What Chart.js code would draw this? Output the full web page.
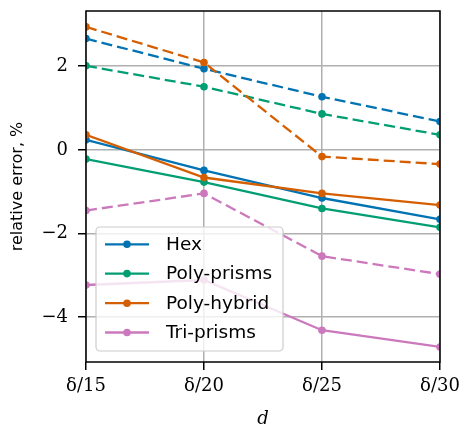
<!DOCTYPE html>
<html>
<head>
<meta charset="utf-8">
<script src="https://cdn.jsdelivr.net/npm/chart.js@4"></script>
<style>
  html, body { margin: 0; padding: 0; background: #fff; }
  #wrap { width: 463px; height: 428px; }
</style>
</head>
<body>
<div id="wrap"><canvas id="chart" width="463" height="428"></canvas></div>
<script>
// categories (grid spacing)
const labels = ['δ/15', 'δ/20', 'δ/25', 'δ/30'];
const yTicks = [-4, -2, 0, 2];

// solid lines
const hexSolid    = [0.24, -0.49, -1.15, -1.66];
const prismsSolid = [-0.22, -0.77, -1.40, -1.85];
const hybridSolid = [0.36, -0.66, -1.04, -1.32];
const triSolid    = [-3.23, -3.11, -4.31, -4.71];

// dashed lines
const hexDashed    = [2.66, 1.94, 1.27, 0.68];
const prismsDashed = [2.01, 1.51, 0.86, 0.36];
const hybridDashed = [2.94, 2.09, -0.16, -0.34];
const triDashed    = [-1.45, -1.04, -2.54, -2.97];

const names = ['Hex', 'Poly-prisms', 'Poly-hybrid', 'Tri-prisms'];
const colors = ['#0173B2', '#029E73', '#D55E00', '#CC78BC'];
const solids = [hexSolid, prismsSolid, hybridSolid, triSolid];
const dashes = [hexDashed, prismsDashed, hybridDashed, triDashed];

function line(label, data, color, dashed) {
  return {
    label: label,
    data: data,
    borderColor: color,
    backgroundColor: color,
    borderWidth: 2.3,
    borderDash: dashed ? [11, 5] : [],
    pointRadius: 3.8,
    pointHoverRadius: 3.8,
    pointBorderWidth: 0,
    pointBackgroundColor: color,
    tension: 0,
    clip: 0
  };
}

const datasets = [];
for (let i = names.length - 1; i >= 0; i--) {
  datasets.push(line(names[i] + ' dashed', dashes[i], colors[i], true));
  datasets.push(line(names[i], solids[i], colors[i], false));
}

// legend drawn inside the plot, matplotlib-like
const insideLegend = {
  id: 'insideLegend',
  afterDatasetsDraw(chart) {
    const c = chart.ctx;
    const x0 = 96, y0 = 227, w = 187, h = 124, r = 4;
    c.save();
    c.beginPath();
    c.roundRect(x0, y0, w, h, r);
    c.fillStyle = 'rgba(255,255,255,0.8)';
    c.fill();
    c.strokeStyle = '#cccccc';
    c.lineWidth = 1.2;
    c.stroke();
    const rows = [244.3, 273.6, 303.2, 332.5];
    c.font = '18.5px "DejaVu Sans"';
    c.textBaseline = 'middle';
    names.forEach((n, i) => {
      c.strokeStyle = colors[i];
      c.lineWidth = 2.3;
      c.beginPath();
      c.moveTo(105, rows[i]);
      c.lineTo(149, rows[i]);
      c.stroke();
      c.fillStyle = colors[i];
      c.beginPath();
      c.arc(127, rows[i], 3.8, 0, Math.PI * 2);
      c.fill();
      c.fillStyle = '#000';
      c.fillText(n, 166, rows[i] + 1);
    });
    c.restore();
  },
  afterDraw(chart) {
    const a = chart.chartArea;
    const c = chart.ctx;
    c.save();
    c.strokeStyle = '#000';
    c.lineWidth = 1.5;
    c.strokeRect(a.left, a.top, a.right - a.left, a.bottom - a.top);
    c.restore();
  }
};

new Chart(document.getElementById('chart'), {
  type: 'line',
  data: { labels: labels, datasets: datasets },
  plugins: [insideLegend],
  options: {
    responsive: false,
    animation: false,
    layout: { padding: { left: 0, right: 23, top: 11, bottom: 0 } },
    plugins: { legend: { display: false }, tooltip: { enabled: false } },
    scales: {
      x: {
        offset: false,
        afterFit: s => { s.height = 66; s.paddingLeft = 0; s.paddingRight = 0; },
        grid: { color: '#b0b0b0', lineWidth: 1.5, tickLength: 8, tickColor: '#000', tickWidth: 1.5 },
        border: { display: false },
        ticks: { color: '#000', padding: 6, maxRotation: 0,
          font: { family: '"DejaVu Serif"', size: 18 } },
        title: { display: true, text: 'd', color: '#000', padding: 0,
          font: { family: '"DejaVu Serif"', size: 18, style: 'italic', lineHeight: 1 } }
      },
      y: {
        min: -5.07,
        max: 3.32,
        afterFit: s => { s.width = 86; s.paddingTop = 0; s.paddingBottom = 0; },
        afterBuildTicks: s => { s.ticks = yTicks.map(v => ({ value: v })); },
        grid: { color: '#b0b0b0', lineWidth: 1.5, tickLength: 8, tickColor: '#000', tickWidth: 1.5 },
        border: { display: false },
        ticks: { color: '#000', padding: 10,
          callback: v => (v < 0 ? '\u2212' + Math.abs(v) : '' + v),
          font: { family: '"DejaVu Serif"', size: 18 } },
        title: { display: true, text: 'relative error, %', color: '#000',
          padding: { top: 8, bottom: 0 },
          font: { family: '"DejaVu Sans"', size: 16 } }
      }
    }
  }
});
</script>
</body>
</html>
